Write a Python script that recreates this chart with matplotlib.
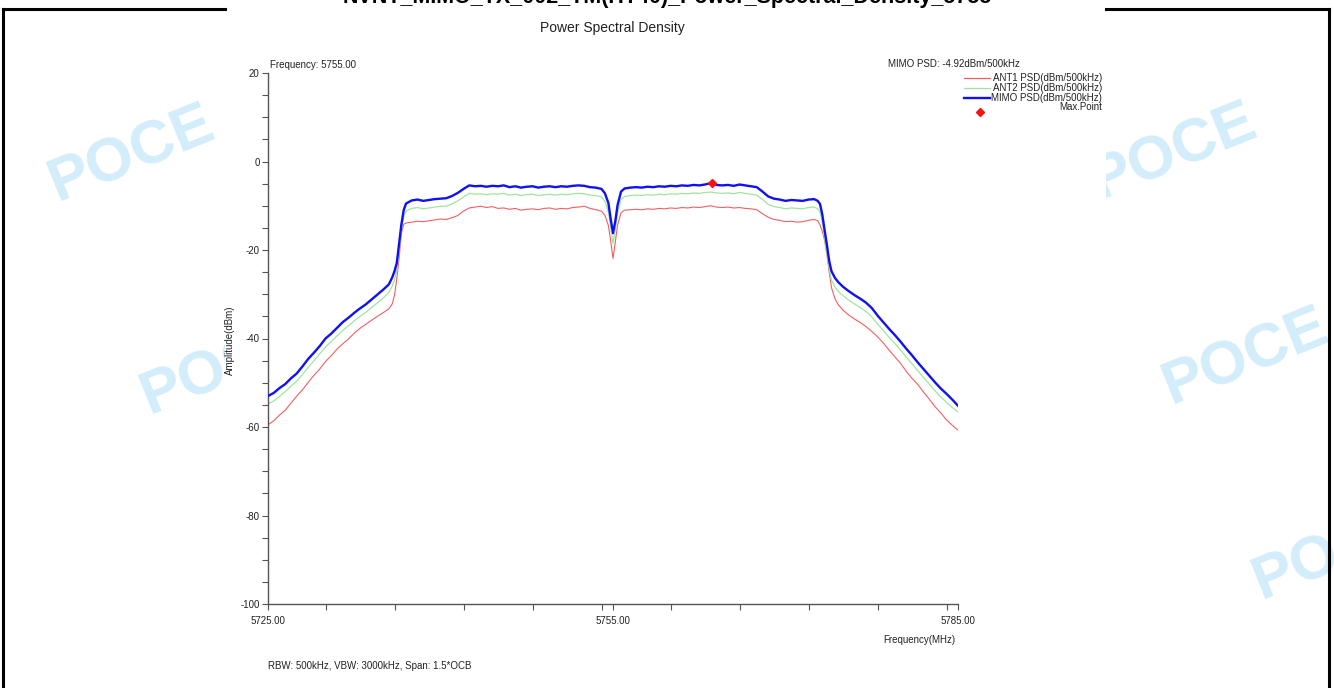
import matplotlib
matplotlib.use("Agg")
import matplotlib.pyplot as plt
from matplotlib.lines import Line2D
from matplotlib.patches import Rectangle
from matplotlib.ticker import FixedLocator, MultipleLocator

plt.rcParams['font.family'] = ['Liberation Sans Narrow', 'Liberation Sans', 'DejaVu Sans']
plt.rcParams['axes.unicode_minus'] = False

# ---------------- data ----------------
freq_mhz = [
    5725.0, 5725.5, 5726.0, 5726.5, 5727.0, 5727.5, 5728.0, 5728.5, 5729.0, 5729.5,
    5730.0, 5730.5, 5731.0, 5731.5, 5732.0, 5732.5, 5733.0, 5733.5, 5734.0, 5734.5,
    5735.0, 5735.5,
    5735.8, 5736.0, 5736.2, 5736.4, 5736.6, 5736.8,
    5737.0, 5737.5, 5738.0, 5738.5, 5739.0, 5739.5, 5740.0, 5740.5, 5741.0, 5741.5,
    5742.0, 5742.5, 5743.0, 5743.5, 5744.0, 5744.5, 5745.0, 5745.5, 5746.0, 5746.5,
    5747.0, 5747.5, 5748.0, 5748.5, 5749.0, 5749.5, 5750.0, 5750.5, 5751.0, 5751.5,
    5752.0, 5752.5, 5753.0, 5753.5, 5754.0,
    5754.3, 5754.6, 5754.8, 5755.0, 5755.2, 5755.4, 5755.7,
    5756.0, 5756.5, 5757.0, 5757.5, 5758.0, 5758.5, 5759.0, 5759.5, 5760.0, 5760.5,
    5761.0, 5761.5, 5762.0, 5762.5, 5763.0, 5763.5, 5764.0, 5764.5, 5765.0, 5765.5,
    5766.0, 5766.5, 5767.0, 5767.5, 5768.0, 5768.5, 5769.0, 5769.5, 5770.0, 5770.5,
    5771.0, 5771.5, 5772.0, 5772.5,
    5772.8, 5773.0, 5773.2, 5773.4, 5773.6, 5773.8,
    5774.0, 5774.3, 5774.6,
    5775.0, 5775.5, 5776.0, 5776.5, 5777.0, 5777.5, 5778.0, 5778.5, 5779.0, 5779.5,
    5780.0, 5780.5, 5781.0, 5781.5, 5782.0, 5782.5, 5783.0, 5783.5, 5784.0, 5784.5,
    5785.0,
]

ant1_psd = [
    -59.5, -58.6, -57.3, -56.2, -54.6, -53.0, -51.6, -49.9, -48.3, -46.9,
    -45.2, -43.9, -42.4, -41.2, -40.1, -38.8, -37.7, -36.8, -35.9, -35.0,
    -34.2, -33.3,
    -32.2, -30.2, -26.5, -21.8, -16.2, -14.2,
    -13.9, -13.7, -13.5, -13.6, -13.4, -13.2, -13.0, -13.1, -12.7, -12.2,
    -11.2, -10.5, -10.3, -10.1, -10.4, -10.2, -10.6, -10.5, -10.8, -10.6,
    -11.0, -10.8, -10.7, -10.9, -10.6, -10.5, -10.8, -10.6, -10.7, -10.4,
    -10.3, -10.1, -10.6, -10.9, -11.2,
    -12.2, -14.5, -18.0, -21.9, -18.2, -14.3, -11.6,
    -11.0, -10.9, -10.8, -10.9, -10.7, -10.8, -10.6, -10.7, -10.5, -10.6,
    -10.4, -10.5, -10.3, -10.4, -10.2, -10.0, -10.3, -10.4, -10.3, -10.5,
    -10.4, -10.6, -10.7, -10.9, -11.8, -12.6, -13.1, -13.3, -13.6, -13.5,
    -13.7, -13.6, -13.3, -13.1,
    -13.4, -14.3, -15.8, -17.8, -21.0, -25.0,
    -28.5, -31.0, -32.4,
    -33.6, -34.7, -35.6, -36.4, -37.3, -38.4, -39.6, -41.0, -42.6, -44.1,
    -45.6, -47.4, -49.0, -50.4, -52.1, -53.7, -55.4, -56.8, -58.4, -59.6,
    -60.7,
]

ant2_psd = [
    -54.8, -54.1, -53.1, -52.0, -50.8, -49.6, -48.1, -46.5, -45.0, -43.5,
    -41.9, -40.7, -39.4, -38.2, -37.1, -36.0, -35.0, -34.1, -33.0, -32.0,
    -30.9, -29.6,
    -28.2, -26.8, -24.6, -20.0, -15.6, -12.6,
    -11.2, -10.6, -10.4, -10.7, -10.5, -10.3, -10.1, -10.1, -9.6, -8.9,
    -8.0, -7.2, -7.4, -7.3, -7.5, -7.3, -7.4, -7.2, -7.6, -7.4,
    -7.7, -7.5, -7.4, -7.7, -7.5, -7.4, -7.6, -7.4, -7.5, -7.3,
    -7.2, -7.3, -7.6, -7.7, -8.0,
    -9.0, -11.4, -15.0, -18.5, -15.4, -11.6, -8.6,
    -7.9, -7.7, -7.6, -7.7, -7.5, -7.6, -7.4, -7.5, -7.3, -7.4,
    -7.2, -7.3, -7.1, -7.2, -7.0, -6.9, -7.1, -7.2, -7.1, -7.3,
    -7.0, -7.2, -7.4, -7.6, -8.6, -9.7, -10.2, -10.4, -10.7, -10.5,
    -10.6, -10.7, -10.4, -10.3,
    -10.7, -11.4, -13.8, -17.2, -20.5, -24.2,
    -26.8, -28.4, -29.4,
    -30.3, -31.3, -32.2, -33.0, -33.9, -35.1, -36.7, -38.2, -39.7, -41.1,
    -42.6, -44.2, -45.7, -47.3, -48.8, -50.3, -51.8, -53.2, -54.4, -55.6,
    -56.6,
]

mimo_psd = [
    -53.0, -52.3, -51.2, -50.3, -49.0, -47.9, -46.3, -44.6, -43.2, -41.7,
    -40.0, -38.9, -37.6, -36.3, -35.3, -34.2, -33.2, -32.3, -31.2, -30.1,
    -29.0, -27.8,
    -26.2, -24.8, -22.9, -18.5, -14.2, -11.0,
    -9.5, -8.8, -8.6, -8.9, -8.7, -8.5, -8.4, -8.3, -7.8, -7.1,
    -6.2, -5.4, -5.6, -5.5, -5.7, -5.5, -5.6, -5.4, -5.8, -5.6,
    -5.9, -5.7, -5.6, -5.9, -5.7, -5.6, -5.8, -5.6, -5.7, -5.5,
    -5.4, -5.5, -5.8, -5.9, -6.2,
    -7.2, -9.4, -13.0, -16.2, -13.5, -9.8, -6.8,
    -6.1, -5.9, -5.8, -5.9, -5.7, -5.8, -5.6, -5.7, -5.5, -5.6,
    -5.4, -5.5, -5.3, -5.4, -5.2, -4.9, -5.3, -5.4, -5.3, -5.5,
    -5.2, -5.4, -5.6, -5.8, -6.8, -7.9, -8.4, -8.6, -8.9, -8.7,
    -8.8, -8.9, -8.6, -8.5,
    -8.9, -9.6, -12.0, -15.5, -18.8, -22.5,
    -24.8, -26.3, -27.3,
    -28.3, -29.3, -30.2, -31.0, -31.9, -33.1, -34.8, -36.3, -37.8, -39.2,
    -40.7, -42.3, -43.8, -45.4, -46.9, -48.4, -49.9, -51.3, -52.5, -53.8,
    -55.2,
]

max_point_freq = [5763.6]
max_point_psd = [-4.92]

x_major_ticks = [5725.0, 5755.0, 5785.0]
x_tick_labels = ["5725.00", "5755.00", "5785.00"]
y_major_ticks = [-100, -80, -60, -40, -20, 0, 20]

series_labels = ["ANT1 PSD(dBm/500kHz)", "ANT2 PSD(dBm/500kHz)", "MIMO PSD(dBm/500kHz)", "Max.Point"]

report_title = "NVNT_MIMO_TX_002_TM(HT40)_Power_Spectral_Density_5755"
chart_title = "Power Spectral Density"
freq_note = "Frequency: 5755.00"
psd_note = "MIMO PSD: -4.92dBm/500kHz"
bottom_note = "RBW: 500kHz, VBW: 3000kHz, Span: 1.5*OCB"

# ---------------- figure ----------------
W, H = 1334, 688
fig = plt.figure(figsize=(W / 100, H / 100), dpi=100)
fig.patch.set_facecolor("white")


def fx(px):
    return px / W


def fy(py):
    return 1 - py / H


# watermarks (behind the chart image), placed so they stay inside the page
wm_color = "#d3edfb"
for (px, py) in [(58, 202), (150, 415), (1100, 200), (1172, 405), (1262, 600)]:
    fig.text(fx(px), fy(py), "POCE", fontsize=44, fontweight="bold", color=wm_color,
             family=["Liberation Sans", "DejaVu Sans"], rotation=22,
             rotation_mode="anchor", ha="left", va="baseline", zorder=0.2, clip_on=True)

# white chart image area covering the watermarks
fig.patches.append(Rectangle((fx(225), 0), fx(1106) - fx(225), fy(10), transform=fig.transFigure,
                             facecolor="white", edgecolor="none", zorder=0.5))

# report frame lines
frame_kw = dict(transform=fig.transFigure, color="black", linewidth=2.2, zorder=3)
fig.lines.append(Line2D([fx(3), fx(3)], [0, fy(9)], **frame_kw))
fig.lines.append(Line2D([fx(1329), fx(1329)], [0, fy(9)], **frame_kw))
fig.lines.append(Line2D([fx(3), fx(225)], [fy(9), fy(9)], **frame_kw))
fig.lines.append(Line2D([fx(1106), fx(1329)], [fy(9), fy(9)], **frame_kw))

fig.text(fx(667), fy(3), report_title, fontsize=15.5, fontweight="bold",
         family=["Liberation Sans", "DejaVu Sans"], ha="center", va="baseline", zorder=3)

# axes
ax = fig.add_axes([fx(268), fy(604), fx(958) - fx(268), fy(73) - fy(604)], zorder=1)
ax.set_facecolor("white")
ax.plot(freq_mhz, ant1_psd, color="#f26060", linewidth=0.8, zorder=2)
ax.plot(freq_mhz, ant2_psd, color="#9fe69f", linewidth=0.9, zorder=2.5)
ax.plot(freq_mhz, mimo_psd, color="#1010f5", linewidth=1.7, zorder=3)
ax.plot(max_point_freq, max_point_psd, linestyle="none", marker="D", markersize=4,
        color="#ff1010", zorder=4)

ax.set_xlim(5725, 5785)
ax.set_ylim(-100, 20)
for s in ("top", "right"):
    ax.spines[s].set_visible(False)
for s in ("left", "bottom"):
    ax.spines[s].set_color("#555555")
    ax.spines[s].set_linewidth(1.0)

ax.xaxis.set_major_locator(FixedLocator(x_major_ticks))
ax.set_xticklabels(x_tick_labels)
ax.xaxis.set_minor_locator(MultipleLocator(6))
ax.yaxis.set_major_locator(FixedLocator(y_major_ticks))
ax.yaxis.set_minor_locator(MultipleLocator(5))
ax.tick_params(axis="both", which="both", direction="out", color="#555555", length=4, width=0.8)
ax.tick_params(axis="x", which="major", labelsize=7, pad=5, labelcolor="#222222")
ax.tick_params(axis="y", which="major", labelsize=7, pad=2, labelcolor="#222222")

# texts around the axes
txt_kw = dict(color="#222222", zorder=3)
fig.text(fx(612), fy(28), chart_title, fontsize=10, ha="center", va="center", **txt_kw)
fig.text(fx(270), fy(65), freq_note, fontsize=7, ha="left", va="center", **txt_kw)
fig.text(fx(888), fy(64), psd_note, fontsize=7, ha="left", va="center", **txt_kw)
fig.text(fx(230), fy(340), "Amplitude(dBm)", fontsize=7, rotation=90, ha="center", va="center", **txt_kw)
fig.text(fx(955), fy(640), "Frequency(MHz)", fontsize=7, ha="right", va="center", **txt_kw)
fig.text(fx(268), fy(666), bottom_note, fontsize=7, ha="left", va="center", **txt_kw)

# custom legend
leg_colors = ["#f26060", "#9fe69f", "#1010f5"]
leg_widths = [0.9, 0.9, 1.7]
leg_y = [78, 88, 98]
for lab, c, lw, yy in zip(series_labels[:3], leg_colors, leg_widths, leg_y):
    fig.lines.append(Line2D([fx(964), fx(990)], [fy(yy), fy(yy)], transform=fig.transFigure,
                            color=c, linewidth=lw, zorder=3))
    fig.text(fx(1102), fy(yy), lab, fontsize=7, ha="right", va="center", **txt_kw)
fig.lines.append(Line2D([fx(980)], [fy(112)], transform=fig.transFigure, linestyle="none",
                        marker="D", markersize=4, color="#ff1010", zorder=3))
fig.text(fx(1102), fy(107), series_labels[3], fontsize=7, ha="right", va="center", **txt_kw)

fig.savefig("out.png", dpi=100, facecolor="white")
